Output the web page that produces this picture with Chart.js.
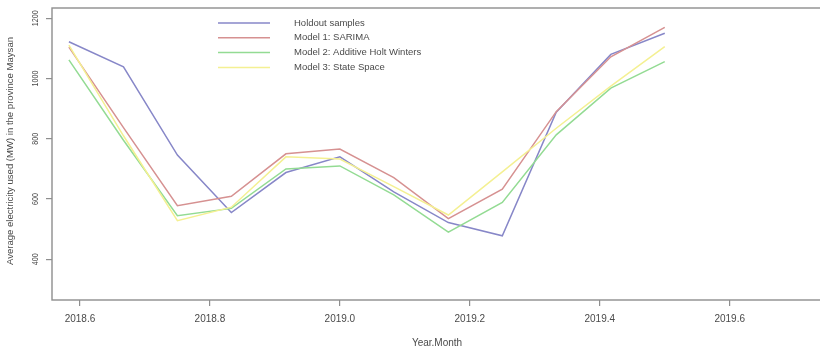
<!DOCTYPE html>
<html>
<head>
<meta charset="utf-8">
<script src="https://cdn.jsdelivr.net/npm/chart.js@4/dist/chart.umd.min.js"></script>
<style>
  html, body { margin: 0; padding: 0; background: #fff; overflow: hidden; }
  #wrap { width: 820px; height: 351px; overflow: hidden; }
  canvas { display: block; }
</style>
</head>
<body>
<div id="wrap"><canvas id="c" width="830" height="351"></canvas></div>
<script>
// Monthly time index (year + month/12)
const months = [2018.583, 2018.667, 2018.750, 2018.833, 2018.917, 2019.000,
                2019.083, 2019.167, 2019.250, 2019.333, 2019.417, 2019.500];

// Average electricity used (MW)
const holdout     = [1122, 1039, 746, 555, 688, 740, 624, 522, 478, 888, 1080, 1150];
const sarima      = [1104, 837, 578, 609, 750, 766, 671, 535, 633, 890, 1072, 1170];
const holtWinters = [1062, 795, 545, 569, 700, 710, 614, 490, 589, 813, 968, 1056];
const stateSpace  = [1111, 810, 528, 573, 740, 733, 641, 547, 690, 835, 975, 1106];

const seriesNames = ['Holdout samples', 'Model 1: SARIMA',
                     'Model 2: Additive Holt Winters', 'Model 3: State Space'];
const seriesColors = ['#8787c8', '#d69191', '#93db93', '#f4f092'];

const xTicks = [2018.6, 2018.8, 2019.0, 2019.2, 2019.4, 2019.6];
const yTicks = [400, 600, 800, 1000, 1200];

const xTitle = 'Year.Month';
const yTitle = 'Average electricity used (MW) in the province Maysan';

const FONT = '"Liberation Sans", Arial, sans-serif';
const TEXT = '#4a4a4a';
const FRAME = '#8e8e8e';

const allSeries = [holdout, sarima, holtWinters, stateSpace];
const datasets = allSeries.map((vals, k) => ({
  label: seriesNames[k],
  data: months.map((m, i) => ({ x: m, y: vals[i] })),
  borderColor: seriesColors[k],
  backgroundColor: seriesColors[k],
  borderWidth: 1.5,
  pointRadius: 0,
  tension: 0,
  fill: false,
  order: k === 0 ? 10 : 4 - k
}));

// Frame, rotated y labels, y title and the legend block
const decorations = {
  id: 'decorations',
  afterDraw(chart) {
    const { ctx, chartArea: a, scales: { y } } = chart;
    ctx.save();
    ctx.strokeStyle = FRAME;
    ctx.lineWidth = 1.4;
    ctx.strokeRect(a.left, a.top, a.right - a.left, a.bottom - a.top);

    // y tick labels, parallel to the axis
    ctx.fillStyle = TEXT;
    ctx.font = '9.5px ' + FONT;
    ctx.textAlign = 'center';
    ctx.textBaseline = 'middle';
    yTicks.forEach(v => {
      const py = y.getPixelForValue(v);
      ctx.save();
      ctx.translate(35, py);
      ctx.rotate(-Math.PI / 2);
      ctx.scale(0.75, 1);
      ctx.fillText(String(v), 0, 0);
      ctx.restore();
    });

    // y axis title
    ctx.save();
    ctx.font = '9.5px ' + FONT;
    const w = ctx.measureText(yTitle).width;
    ctx.translate(10, 151);
    ctx.rotate(-Math.PI / 2);
    ctx.scale(228 / w, 1);
    ctx.fillText(yTitle, 0, 0);
    ctx.restore();

    // legend
    ctx.font = '9.5px ' + FONT;
    ctx.textAlign = 'left';
    seriesNames.forEach((name, k) => {
      const ly = 23 + k * 14.8;
      ctx.strokeStyle = seriesColors[k];
      ctx.lineWidth = 1.5;
      ctx.beginPath();
      ctx.moveTo(218, ly);
      ctx.lineTo(270, ly);
      ctx.stroke();
      ctx.fillStyle = TEXT;
      ctx.fillText(name, 294, ly);
    });
    ctx.restore();
  }
};

new Chart(document.getElementById('c'), {
  type: 'line',
  data: { datasets },
  options: {
    responsive: false,
    animation: false,
    events: [],
    layout: { padding: { top: 8, right: 8, left: 0, bottom: 0 } },
    plugins: { legend: { display: false }, tooltip: { enabled: false } },
    scales: {
      x: {
        type: 'linear',
        min: 2018.557,
        max: 2019.742,
        afterBuildTicks: s => { s.ticks = xTicks.map(v => ({ value: v })); },
        afterFit: s => { s.height = 51; },
        border: { display: false },
        grid: { display: true, drawOnChartArea: false, drawTicks: true, tickLength: 6,
                color: FRAME, tickColor: FRAME, lineWidth: 1.2 },
        ticks: { color: TEXT, font: { size: 10, family: FONT }, padding: 7,
                 maxRotation: 0, autoSkip: false,
                 callback: v => Number(v).toFixed(1) },
        title: { display: true, text: xTitle, color: TEXT,
                 font: { size: 10, family: FONT }, padding: { top: 4, bottom: 2 } }
      },
      y: {
        type: 'linear',
        min: 265,
        max: 1234,
        afterBuildTicks: s => { s.ticks = yTicks.map(v => ({ value: v })); },
        afterFit: s => { s.width = 52; },
        border: { display: false },
        grid: { display: true, drawOnChartArea: false, drawTicks: true, tickLength: 6,
                color: FRAME, tickColor: FRAME, lineWidth: 1.2 },
        ticks: { display: false },
        title: { display: false }
      }
    }
  },
  plugins: [decorations]
});
</script>
</body>
</html>
